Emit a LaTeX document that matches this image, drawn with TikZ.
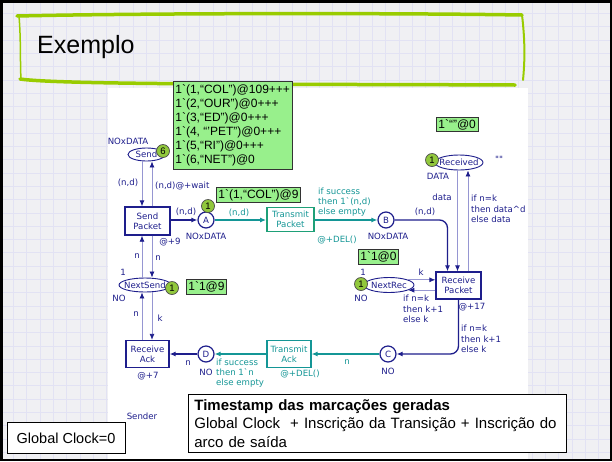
\documentclass[tikz,border=0pt]{standalone}
\usepackage{fontspec}
\setmainfont{Liberation Sans}
\newfontfamily\netfont{DejaVu Sans}
\usetikzlibrary{arrows.meta,calc,shapes.geometric}

\definecolor{navy}{RGB}{30,30,140}
\definecolor{tealc}{RGB}{20,150,150}
\definecolor{transg}{RGB}{30,160,120}
\definecolor{lav}{RGB}{150,150,210}
\definecolor{tokg}{RGB}{145,200,60}
\definecolor{labg}{RGB}{152,240,140}
\definecolor{slidebg}{RGB}{240,240,243}
\definecolor{gridc}{RGB}{226,226,243}
\definecolor{titleg}{RGB}{153,204,0}

\newcommand{\bq}{\textasciigrave}

\tikzset{
  nt/.style={font=\netfont\fontsize{8.6}{10.3}\selectfont, text=navy, inner sep=0pt, align=left},
  tt/.style={nt, text=tealc},
  place/.style={ellipse, draw=navy, line width=0.9pt, fill=white, inner sep=0pt},
  cplace/.style={circle, draw=navy, line width=1.2pt, fill=white, minimum size=16pt, inner sep=0pt, nt, align=center},
  trans/.style={rectangle, draw=navy, line width=1.3pt, fill=white, nt, align=center},
  ttrans/.style={trans, draw=tealc, text=tealc, line width=1.1pt},
  token/.style={circle, draw=black!70, line width=0.7pt, fill=tokg, minimum size=13pt, inner sep=0pt, font=\fontsize{9.5}{10}\selectfont},
  gbox/.style={draw=black!80, line width=0.8pt, fill=labg, inner xsep=2pt, inner ysep=2pt, align=left, anchor=north west, font=\fontsize{12}{14}\selectfont},
  mainarc/.style={draw=navy, line width=1.3pt, -{Latex[length=6pt,width=5pt]}},
  tealarc/.style={draw=tealc, line width=1.2pt, -{Latex[length=6pt,width=5pt]}},
  thinarc/.style={draw=lav, line width=0.8pt, -{Latex[length=6pt,width=5pt,color=navy]}},
}

\begin{document}
\begin{tikzpicture}[x=1pt,y=-1pt]
\useasboundingbox (0,0) rectangle (612,461);

% slide background with grid paper
\fill[slidebg] (0,0) rectangle (612,461);
\foreach \gx in {0,13.3,...,612} \draw[gridc, line width=0.5pt] (\gx,0) -- (\gx,461);
\foreach \gy in {0,13.3,...,461} \draw[gridc, line width=0.5pt] (0,\gy) -- (612,\gy);

% white panel holding the net
\fill[white] (108,88) rectangle (528,461);

% title frame, hand-drawn look
\draw[titleg, line width=3.5pt, line cap=round] (17,16) .. controls (150,13) and (400,13) .. (522,15);
\draw[titleg, line width=2pt, line cap=round] (522,15) .. controls (525,40) and (525,60) .. (523,80);
\draw[titleg, line width=3.5pt, line cap=round] (20,79) .. controls (60,85) and (300,84) .. (515,85);
\draw[titleg, line width=1.5pt, line cap=round] (19,16) .. controls (21,40) and (20,60) .. (21,80);
\node[anchor=west, font=\fontsize{25}{28}\selectfont, inner sep=0pt] (title) at (37,47) {Exemplo};

% ---------- places ----------
\node[place, minimum width=37pt, minimum height=13pt, label={[nt]center:Send}] (Send) at (146.5,154.5) {};
\node[place, minimum width=52pt, minimum height=14pt, label={[nt]center:NextSend}] (NS) at (145,285) {};
\node[place, minimum width=48pt, minimum height=15pt, label={[nt]center:Received}] (Rcv) at (459,162.5) {};
\node[place, minimum width=50pt, minimum height=15pt, label={[nt]center:NextRec}] (NR) at (389,285) {};
\node[cplace] (A) at (206,220) {A};
\node[cplace] (B) at (386,220) {B};
\node[cplace] (C) at (388,354) {C};
\node[cplace] (D) at (206,354) {D};

% ---------- transitions ----------
\node[trans, minimum width=45pt, minimum height=28pt] (SP) at (147.5,221) {Send\\Packet};
\node[trans, minimum width=45pt, minimum height=27pt] (RP) at (458.5,285.5) {Receive\\Packet};
\node[trans, minimum width=43pt, minimum height=27pt] (RA) at (147.5,354) {Receive\\Ack};
\node[ttrans, minimum width=47pt, minimum height=24pt, draw=transg, line width=1.8pt] (TP) at (290.5,219.5) {Transmit\\Packet};
\node[ttrans, minimum width=44pt, minimum height=27pt] (TA) at (289,354) {Transmit\\Ack};

% ---------- helper points for parallel arcs ----------
\coordinate (sp1) at ([xshift=-5.5pt]SP.north);
\coordinate (sp2) at ([xshift=4.5pt]SP.north);
\coordinate (sp3) at ([xshift=-5.5pt]SP.south);
\coordinate (sp4) at ([xshift=4.5pt]SP.south);
\coordinate (ra1) at ([xshift=-5.5pt]RA.north);
\coordinate (ra2) at ([xshift=4.5pt]RA.north);
\coordinate (rp1) at ([xshift=-11pt]RP.north);
\coordinate (rp2) at ([xshift=-1pt]RP.north);
\coordinate (rp3) at ([xshift=9.5pt]RP.north);

% ---------- arcs ----------
\draw[thinarc] (sp1 |- Send.south) -- (sp1);
\draw[thinarc] (sp2) -- (sp2 |- Send.south);
\draw[thinarc] (sp3 |- NS.north) -- (sp3);
\draw[thinarc] (sp4) -- (sp4 |- NS.north);
\draw[thinarc] (ra1) -- (ra1 |- NS.south);
\draw[thinarc] (ra2 |- NS.south) -- (ra2);
\draw[mainarc] (SP.east |- A) -- (A);
\draw[tealarc] (A) -- (TP.west |- A);
\draw[tealarc] (TP.east |- B) -- (B);
\draw[mainarc, rounded corners=8pt] (B) -| (rp1);
\draw[thinarc] (rp2 |- Rcv.south) -- (rp2);
\draw[thinarc] (rp3) -- (rp3 |- Rcv.south);
\draw[thinarc] (NR.15) -- (NR.15 -| RP.west);
\draw[thinarc] (NR.-15 -| RP.west) -- (NR.-15);
\draw[mainarc, rounded corners=8pt] (RP.south) |- (C);
\draw[tealarc] (C) -- (TA);
\draw[tealarc] (TA) -- (D);
\draw[mainarc] (D) -- (RA);

% ---------- tokens ----------
\node[token] (k6) at (163,151) {6};
\node[token] (kA) at (208,206) {1};
\node[token] (kNS) at (172,288) {1};
\node[token] (kR) at (432,160) {1};
\node[token] (kNR) at (361,284) {1};

% ---------- marking boxes ----------
\node[gbox, inner ysep=3.5pt] (mSend) at (173,81) {1\bq(1,“COL”)@109+++\\1\bq(2,“OUR”)@0+++\\1\bq(3,“ED”)@0+++\\1\bq(4, “'PET”)@0+++\\1\bq(5,“RI”)@0+++\\1\bq(6,“NET”)@0};
\node[gbox] (mA) at (216,187) {1\bq(1,“COL”)@9};
\node[gbox] (mNS) at (186,279) {1\bq1@9};
\node[gbox] (mNR) at (358,249) {1\bq1@0};
\node[gbox] (mR) at (436,117) {1\bq“”@0};

% ---------- colour sets and initial markings ----------
\node[nt] (cSend) at (128,141) {NOxDATA};
\node[nt] (cA) at (206,236) {NOxDATA};
\node[nt] (cB) at (388,236) {NOxDATA};
\node[nt] (cR) at (438,176) {DATA};
\node[nt] (iR) at (499,159) {""};
\node[nt] (iNS) at (123,272) {1};
\node[nt] (cNS) at (119,298) {NO};
\node[nt] (iNR) at (363,272) {1};
\node[nt] (cNR) at (361,298) {NO};
\node[nt] (cC) at (388,371) {NO};
\node[nt] (cD) at (206,372) {NO};

% ---------- arc inscriptions ----------
\node[nt] (a1) at (128,183) {(n,d)};
\node[nt, anchor=west] (a2) at (155,186) {(n,d)@+wait};
\node[nt] (a3) at (186,212) {(n,d)};
\node[tt] (a4) at (239,213) {(n,d)};
\node[tt, anchor=west] (a5) at (318,202) {if success\\then 1\bq(n,d)\\else empty};
\node[nt] (a6) at (425,212) {(n,d)};
\node[nt] (a7) at (442,197) {data};
\node[nt, anchor=west] (a8) at (471,209) {if n=k\\then data\textasciicircum d\\else data};
\node[nt] (a9) at (137,256) {n};
\node[nt] (a10) at (158,258) {n};
\node[nt] (a11) at (136,314) {n};
\node[nt] (a12) at (160,318) {k};
\node[nt] (a13) at (421,272) {k};
\node[nt, anchor=west] (a14) at (403,309) {if n=k\\then k+1\\else k};
\node[nt, anchor=west] (a15) at (461,339) {if n=k\\then k+1\\else k};
\node[tt] (a16) at (347,362) {n};
\node[tt, anchor=west] (a17) at (216,373) {if success\\then 1\bq n\\else empty};
\node[nt] (a18) at (188,363) {n};

% ---------- time inscriptions ----------
\node[nt] (d1) at (170,242) {@+9};
\node[tt] (d2) at (337,240) {@+DEL()};
\node[nt] (d3) at (472,307) {@+17};
\node[tt] (d4) at (300,374) {@+DEL()};
\node[nt] (d5) at (148,376) {@+7};
\node[nt] (pg) at (142,416) {Sender};

% ---------- notes ----------
\node[draw=black, fill=white, line width=0.8pt, anchor=north west, text width=366pt,
      inner xsep=6pt, inner ysep=5pt, align=left, font=\fontsize{15}{18.5}\selectfont] (note) at (188,394)
  {\textbf{Timestamp das marcações geradas}\\Global Clock\ \ + Inscrição da Transição + Inscrição do\\arco de saída};
\node[draw=black, fill=white, line width=0.8pt, minimum width=118pt, minimum height=31pt,
      font=\fontsize{14.5}{16}\selectfont] (clock) at (66,438) {Global Clock=0};

% slide frame
\draw[line width=2.5pt] (1.25,1.25) rectangle (610.75,459.75);
\end{tikzpicture}
\end{document}
